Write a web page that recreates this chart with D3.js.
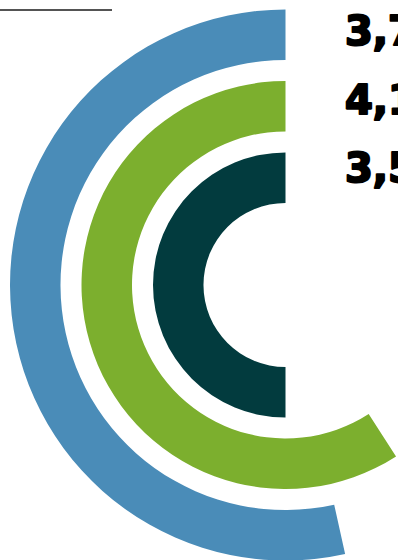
<!DOCTYPE html>
<head>
    <meta charset="UTF-8">
    <title>Radial bars</title>
</head>
<style>
    body {
        margin: 0;
        background: #fff;
    }

    .label {
        font-family: "DejaVu Sans", sans-serif;
        font-weight: bold;
        font-size: 40px;
        fill: #000;
        stroke: #000;
        stroke-width: 2.2px;
        stroke-linejoin: round;
    }
</style>
<body>

    <script src="https://cdn.jsdelivr.net/npm/d3@7"></script>
    <script>
        // data: outer ring first
        var names = ["blue", "green", "dark"];
        var values = [3743, 4138, 3500];
        var labels = ["3,743", "4,138", "3,500"];
        var colors = ["#4a8cb8", "#7caf2e", "#023b3e"];
        var maxValue = 7000;

        var width = 398,
            height = 560,
            cx = 285.5,
            cy = 285;

        var svg = d3.select("body").append("svg")
            .attr("width", width)
            .attr("height", height);

        // rule at top left (cut off title underline)
        svg.append("line")
            .attr("x1", 0)
            .attr("x2", 112)
            .attr("y1", 10)
            .attr("y2", 10)
            .style("stroke", "#1a1a1a")
            .style("stroke-width", 1.6);

        // rings: innermost at the bottom of the range
        var radius = d3.scaleBand()
            .domain(names.slice().reverse())
            .range([82, 275.5])
            .paddingInner(0.2937)
            .paddingOuter(0);

        // counter-clockwise from 12 o'clock
        var angle = d3.scaleLinear()
            .domain([0, maxValue])
            .range([0, -2 * Math.PI]);

        var color = d3.scaleOrdinal()
            .domain(names)
            .range(colors);

        var arc = d3.arc()
            .startAngle(0)
            .endAngle(function(d) { return angle(d.value); })
            .innerRadius(function(d) { return radius(d.name); })
            .outerRadius(function(d) { return radius(d.name) + radius.bandwidth(); });

        var data = names.map(function(n, i) {
            return { name: n, value: values[i], label: labels[i] };
        });

        var g = svg.append("g")
            .attr("transform", "translate(" + cx + "," + cy + ")");

        g.selectAll(".arc")
            .data(data)
            .enter().append("path")
            .attr("class", "arc")
            .attr("d", arc)
            .style("fill", function(d) { return color(d.name); });

        var labelY = d3.scalePoint()
            .domain(names)
            .range([45, 182]);

        svg.selectAll(".label")
            .data(data)
            .enter().append("text")
            .attr("class", "label")
            .attr("x", 345)
            .attr("y", function(d) { return labelY(d.name); })
            .text(function(d) { return d.label; });
    </script>
</body>
</html>
